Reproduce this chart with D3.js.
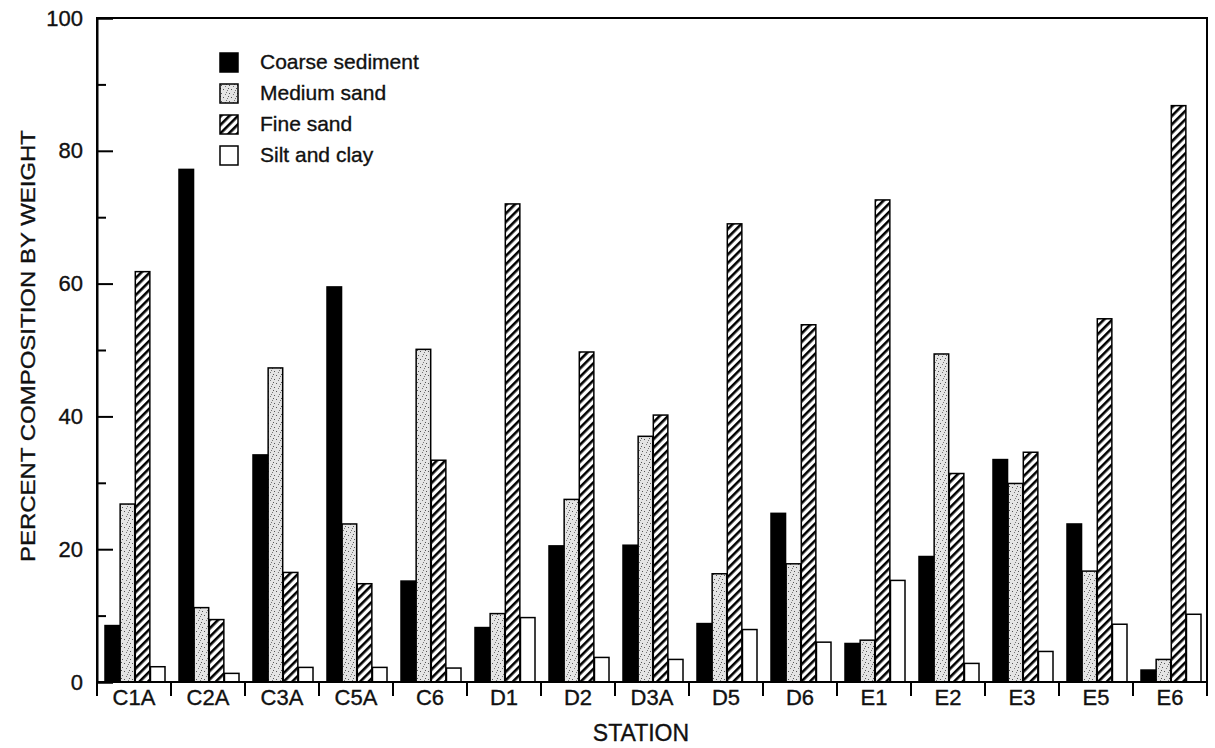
<!DOCTYPE html>
<html>
<head>
<meta charset="utf-8">
<script src="https://cdn.jsdelivr.net/npm/d3@7"></script>
<style>
  body { margin: 0; background: #fff; }
  text { font-family: "Liberation Sans", Arial, sans-serif; fill: #111; stroke: #111; stroke-width: 0.35px; }
</style>
</head>
<body>
<div id="content"></div>
<script>
let stations = ["C1A", "C2A", "C3A", "C5A", "C6", "D1", "D2", "D3A", "D5", "D6", "E1", "E2", "E3", "E5", "E6"];
let seriesNames = ["Coarse sediment", "Medium sand", "Fine sand", "Silt and clay"];
let coarse = [8.5, 77.2, 34.2, 59.5, 15.2, 8.2, 20.5, 20.6, 8.8, 25.4, 5.8, 18.9, 33.5, 23.8, 1.8];
let medium = [26.8, 11.2, 47.3, 23.8, 50.1, 10.3, 27.5, 37.0, 16.3, 17.8, 6.3, 49.4, 29.9, 16.7, 3.4];
let fine   = [61.8, 9.4, 16.5, 14.8, 33.4, 72.0, 49.7, 40.2, 69.0, 53.8, 72.6, 31.4, 34.6, 54.7, 86.8];
let silt   = [2.3, 1.3, 2.2, 2.2, 2.1, 9.7, 3.7, 3.4, 7.9, 6.0, 15.3, 2.8, 4.6, 8.7, 10.2];
let yTicks = [0, 20, 40, 60, 80, 100];
let yMinorTicks = [10, 30, 50, 70, 90];

let seriesValues = [coarse, medium, fine, silt];
let fills = ["#000", "url(#stipple)", "url(#hatch)", "#fff"];

const margin = {top: 18, left: 97, right: 8, bottom: 66},
    W = 1215, H = 748,
    width = W - margin.left - margin.right,
    height = H - margin.top - margin.bottom;

let svg = d3.select("#content").append("svg")
    .attr("width", W).attr("height", H);

// patterns
let defs = svg.append("defs");
let hatch = defs.append("pattern")
    .attr("id", "hatch")
    .attr("patternUnits", "userSpaceOnUse")
    .attr("width", 6).attr("height", 6)
    .attr("patternTransform", "rotate(45)");
hatch.append("rect").attr("width", 6).attr("height", 6).attr("fill", "#fff");
hatch.append("rect").attr("x", 0).attr("y", 0).attr("width", 2.6).attr("height", 6).attr("fill", "#000");

let stipple = defs.append("pattern")
    .attr("id", "stipple")
    .attr("patternUnits", "userSpaceOnUse")
    .attr("width", 8).attr("height", 8);
stipple.append("rect").attr("width", 8).attr("height", 8).attr("fill", "#e4e4e4");
[[1, 1], [5, 2], [3, 5], [7, 6], [0, 4], [6, 0]].forEach(function(p, i) {
    stipple.append("rect")
        .attr("x", p[0]).attr("y", p[1])
        .attr("width", 1).attr("height", 1)
        .attr("fill", i % 2 ? "#777" : "#555");
});

let g = svg.append("g").attr("transform", "translate(" + margin.left + "," + margin.top + ")");

const x = d3.scaleBand().domain(stations).range([0, width]).paddingInner(0).paddingOuter(0);
const inner = d3.scaleBand().domain(d3.range(4)).range([8, x.bandwidth() - 6]).paddingInner(0.04);
const y = d3.scaleLinear().domain([0, 100]).range([height, 0]);

// bars
stations.forEach(function(s, i) {
    seriesValues.forEach(function(vals, k) {
        g.append("rect")
            .attr("x", x(s) + inner(k))
            .attr("y", y(vals[i]))
            .attr("width", inner.bandwidth())
            .attr("height", y(0) - y(vals[i]))
            .attr("fill", fills[k])
            .attr("stroke", "#000")
            .attr("stroke-width", 1.5);
    });
});

// frame: top and right
g.append("path")
    .attr("d", "M0," + height + "V0H" + width + "V" + height)
    .attr("fill", "none").attr("stroke", "#000").attr("stroke-width", 2);

// y axis, ticks pointing inwards
let yAxis = g.append("g")
    .call(d3.axisLeft(y).tickValues(yTicks).tickSize(-16).tickPadding(14).tickFormat(d3.format("d")));
yAxis.select(".domain").attr("stroke-width", 2);
yAxis.selectAll(".tick line").attr("stroke-width", 2);
yAxis.selectAll(".tick text").attr("font-size", 22);

g.append("g")
    .call(d3.axisLeft(y).tickValues(yMinorTicks).tickSize(-9).tickFormat(""))
    .call(function(a) { a.select(".domain").remove(); a.selectAll("line").attr("stroke-width", 2); });

// x axis: boundary ticks downward
let xAxis = g.append("g").attr("transform", "translate(0," + height + ")");
xAxis.append("line").attr("x1", 0).attr("x2", width).attr("stroke", "#000").attr("stroke-width", 2);
xAxis.selectAll(".bt")
    .data(stations.concat(["end"]))
    .enter().append("line")
    .attr("x1", function(d, i) { return i * x.step(); })
    .attr("x2", function(d, i) { return i * x.step(); })
    .attr("y1", 0).attr("y2", 14)
    .attr("stroke", "#000").attr("stroke-width", 2);
xAxis.selectAll(".lbl")
    .data(stations)
    .enter().append("text")
    .attr("x", function(d) { return x(d) + x.bandwidth() / 2; })
    .attr("y", 23)
    .attr("text-anchor", "middle")
    .attr("font-size", 22)
    .text(function(d) { return d; });

// axis titles
svg.append("text")
    .attr("x", 641)
    .attr("y", 741)
    .attr("text-anchor", "middle")
    .attr("font-size", 23)
    .text("STATION");

svg.append("text")
    .attr("transform", "translate(35,346) rotate(-90)")
    .attr("text-anchor", "middle")
    .attr("font-size", 21)
    .attr("textLength", 432)
    .attr("lengthAdjust", "spacingAndGlyphs")
    .text("PERCENT COMPOSITION BY WEIGHT");

// legend
let legend = svg.append("g").attr("transform", "translate(220,53)");
seriesNames.forEach(function(name, k) {
    let row = legend.append("g").attr("transform", "translate(0," + (k * 31) + ")");
    row.append("rect")
        .attr("width", 18).attr("height", 19)
        .attr("fill", fills[k]).attr("stroke", "#000").attr("stroke-width", 1.5);
    row.append("text")
        .attr("x", 40).attr("y", 16)
        .attr("font-size", 21)
        .text(name);
});
</script>
</body>
</html>
